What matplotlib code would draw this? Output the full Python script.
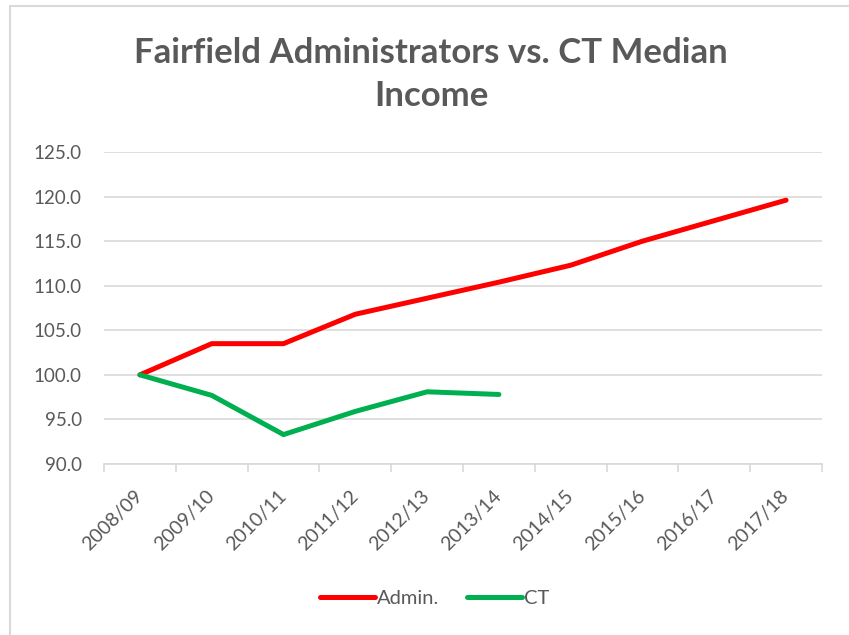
import matplotlib.pyplot as plt
from matplotlib.patches import Rectangle

# data
years = ['2008/09', '2009/10', '2010/11', '2011/12', '2012/13',
         '2013/14', '2014/15', '2015/16', '2016/17', '2017/18']
admin = [100.0, 103.5, 103.5, 106.8, 108.6, 110.4, 112.3, 115.0, 117.3, 119.6]
ct = [100.0, 97.7, 93.3, 95.9, 98.1, 97.8]

plt.rcParams['font.family'] = ['Lato', 'DejaVu Sans']
txt = '#595959'
grid = '#d9d9d9'

fig = plt.figure(figsize=(8.49, 6.35), dpi=100)
ax = fig.add_axes([0.1225, 0.2693, 0.8457, 0.4913])

x = list(range(len(years)))
ax.plot(x, admin, color='#ff0000', lw=3.6, solid_capstyle='round', label='Admin.')
ax.plot(x[:len(ct)], ct, color='#00b050', lw=3.6, solid_capstyle='round', label='CT')

ax.set_xlim(-0.5, len(years) - 0.5)
ax.set_ylim(90, 125)
ax.set_yticks([90, 95, 100, 105, 110, 115, 120, 125])
ax.set_yticklabels(['%.1f' % v for v in ax.get_yticks()], color=txt, fontsize=13.5)
ax.set_xticks(x)
ax.set_xticklabels(years, rotation=45, ha='right', va='center', rotation_mode='anchor',
                   color=txt, fontsize=14)
ax.set_xticks([i - 0.5 for i in range(len(years) + 1)], minor=True)
ax.tick_params(axis='x', which='major', length=0, pad=21)
ax.tick_params(axis='x', which='minor', length=6, color=grid, width=1.2)
ax.tick_params(axis='y', length=0, pad=16)
ax.grid(axis='y', color=grid, lw=1.2)
ax.set_axisbelow(True)
for s in ['top', 'right', 'left']:
    ax.spines[s].set_visible(False)
ax.spines['bottom'].set_color(grid)
ax.spines['bottom'].set_linewidth(1.2)

fig.text(0.508, 0.882, 'Fairfield Administrators vs. CT Median\nIncome', ha='center', va='center',
         fontsize=25, fontweight='bold', color=txt, linespacing=1.42)

fig.legend(loc='center', bbox_to_anchor=(0.512, 0.058), ncol=2, frameon=False,
           fontsize=14.5, labelcolor=txt, handlelength=2.7, handletextpad=0.1, columnspacing=1.4)

# chart border
fig.patches.append(Rectangle((10 / 849, -0.1), 1.2, 1 - 6 / 635 + 0.1, transform=fig.transFigure,
                             fill=False, edgecolor=grid, lw=1.5))

plt.savefig('out.png', dpi=100)
